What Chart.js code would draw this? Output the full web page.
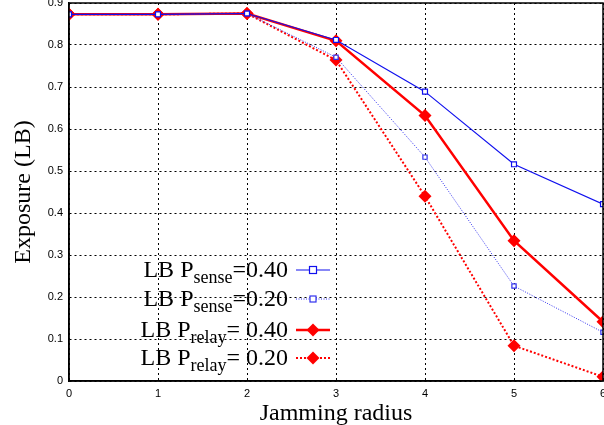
<!DOCTYPE html>
<html>
<head>
<meta charset="utf-8">
<script src="https://cdn.jsdelivr.net/npm/chart.js@4.4.0/dist/chart.umd.min.js"></script>
<style>
  html, body { margin: 0; padding: 0; background: #fff; }
  #wrap { width: 604px; height: 425px; }
</style>
</head>
<body>
<div id="wrap"><canvas id="myChart" width="604" height="425"></canvas></div>
<script>
// jamming radius on x
var radius = [0, 1, 2, 3, 4, 5, 6];
var senseHigh = [0.873, 0.873, 0.875, 0.812, 0.689, 0.516, 0.421];
var senseLow  = [0.873, 0.873, 0.875, 0.771, 0.533, 0.226, 0.116];
var relayHigh = [0.873, 0.873, 0.875, 0.810, 0.632, 0.334, 0.141];
var relayLow  = [0.873, 0.873, 0.875, 0.764, 0.440, 0.084, 0.010];
var yTicks = [0, 0.1, 0.2, 0.3, 0.4, 0.5, 0.6, 0.7, 0.8, 0.9];
var legendText = [
  ['LB P', 'sense', '=0.40'],
  ['LB P', 'sense', '=0.20'],
  ['LB P', 'relay', '= 0.40'],
  ['LB P', 'relay', '= 0.20']
];

function pts(vals) {
  return vals.map(function (v, i) { return { x: radius[i], y: v }; });
}

var serif = '"Liberation Serif", "DejaVu Serif", serif';
var sans = '"Liberation Sans", Arial, sans-serif';

// gnuplot style legend + axis titles
var extras = {
  id: 'extras',
  afterDraw: function (chart) {
    var c = chart.ctx, a = chart.chartArea;
    c.save();
    // box around plot
    c.strokeStyle = '#000';
    c.lineWidth = 1.5;
    c.strokeRect(a.left, a.top, a.right - a.left, a.bottom - a.top);

    // axis titles
    c.fillStyle = '#000';
    c.font = '24px ' + serif;
    c.textAlign = 'center';
    c.textBaseline = 'alphabetic';
    c.fillText('Jamming radius', 336, 420);
    c.save();
    c.translate(30, 192);
    c.rotate(-Math.PI / 2);
    c.fillText('Exposure (LB)', 0, 0);
    c.restore();

    // legend
    var rowsY = [270, 299, 330, 358];
    var textRight = 288;
    chart.data.datasets.forEach(function (ds, i) {
      var y = rowsY[i];
      var parts = legendText[i];
      c.font = '24px ' + serif;
      var w1 = c.measureText(parts[0]).width;
      var w3 = c.measureText(parts[2]).width;
      c.font = '18px ' + serif;
      var w2 = c.measureText(parts[1]).width;
      var x = textRight - w1 - w2 - w3;
      c.textAlign = 'left';
      c.textBaseline = 'alphabetic';
      c.fillStyle = '#000';
      c.font = '24px ' + serif;
      c.fillText(parts[0], x, y + 7);
      c.font = '18px ' + serif;
      c.fillText(parts[1], x + w1, y + 13);
      c.font = '24px ' + serif;
      c.fillText(parts[2], x + w1 + w2, y + 7);

      // sample line
      c.strokeStyle = ds.borderColor;
      c.lineWidth = ds.borderWidth;
      c.setLineDash(ds.borderDash || []);
      c.beginPath();
      c.moveTo(296, y);
      c.lineTo(330, y);
      c.stroke();
      c.setLineDash([]);
      var r = ds.pointRadius;
      if (ds.pointStyle === 'rect') {
        c.fillStyle = '#fff';
        c.lineWidth = 1.2;
        c.fillRect(313 - r, y - r, 2 * r, 2 * r);
        c.strokeRect(313 - r, y - r, 2 * r, 2 * r);
      } else {
        c.fillStyle = ds.backgroundColor;
        c.beginPath();
        c.moveTo(313, y - r);
        c.lineTo(313 + r, y);
        c.lineTo(313, y + r);
        c.lineTo(313 - r, y);
        c.closePath();
        c.fill();
      }
    });
    c.restore();
  }
};

var ctx = document.getElementById('myChart').getContext('2d');
var chart = new Chart(ctx, {
  type: 'line',
  data: {
    datasets: [{
      label: 'LB Psense=0.40',
      data: pts(senseHigh),
      borderColor: '#1010ee',
      backgroundColor: '#fff',
      borderWidth: 1.2,
      pointStyle: 'rect',
      pointRadius: 3.5,
      pointBorderWidth: 1.2
    }, {
      label: 'LB Psense=0.20',
      data: pts(senseLow),
      borderColor: '#3030ee',
      backgroundColor: '#fff',
      borderWidth: 1,
      borderDash: [1, 1.5],
      pointStyle: 'rect',
      pointRadius: 3,
      pointBorderWidth: 1.2
    }, {
      label: 'LB Prelay= 0.40',
      data: pts(relayHigh),
      borderColor: '#ff0000',
      backgroundColor: '#ff0000',
      borderWidth: 2.5,
      pointStyle: 'rectRot',
      pointRadius: 6.5,
      pointBorderWidth: 0
    }, {
      label: 'LB Prelay= 0.20',
      data: pts(relayLow),
      borderColor: '#ff0000',
      backgroundColor: '#ff0000',
      borderWidth: 2,
      borderDash: [2, 2],
      pointStyle: 'rectRot',
      pointRadius: 6.5,
      pointBorderWidth: 0
    }]
  },
  options: {
    responsive: false,
    animation: false,
    layout: { autoPadding: false, padding: { top: 3, right: 1, left: 0, bottom: 0 } },
    plugins: {
      legend: { display: false },
      tooltip: { enabled: false }
    },
    scales: {
      x: {
        type: 'linear',
        min: 0,
        max: 6,
        afterFit: function (s) { s.height = 44; s.paddingLeft = 0; s.paddingRight = 0; },
        afterBuildTicks: function (s) {
          s.ticks = radius.map(function (v) { return { value: v }; });
        },
        ticks: { color: '#000', font: { family: sans, size: 11 }, padding: 6 },
        grid: { color: '#000', lineWidth: 1, drawTicks: false },
        border: { color: '#000', width: 1.5, dash: [2, 3] }
      },
      y: {
        min: 0,
        max: 0.9,
        afterFit: function (s) { s.width = 69; s.paddingTop = 0; s.paddingBottom = 0; },
        afterBuildTicks: function (s) {
          s.ticks = yTicks.map(function (v) { return { value: v }; });
        },
        ticks: { color: '#000', font: { family: sans, size: 11 }, padding: 6 },
        grid: { color: '#000', lineWidth: 1, drawTicks: false },
        border: { color: '#000', width: 1.5, dash: [2, 3] }
      }
    }
  },
  plugins: [extras]
});
</script>
</body>
</html>
